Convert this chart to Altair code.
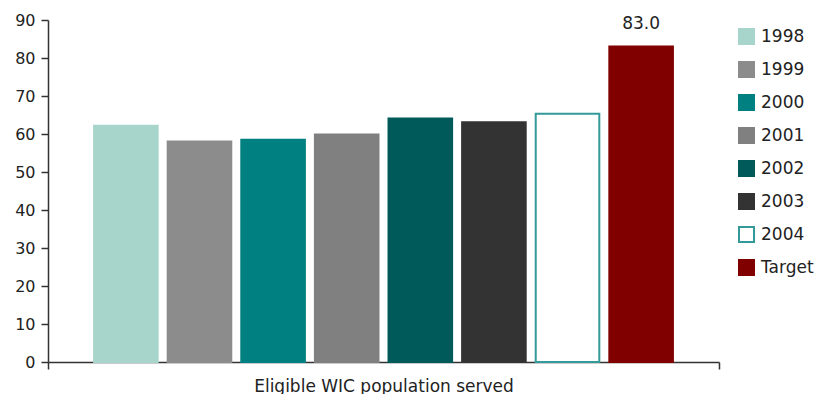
import altair as alt
import pandas as pd

years = ["1998", "1999", "2000", "2001", "2002", "2003", "2004", "Target"]
values = [62.2, 58.0, 58.5, 59.9, 64.1, 63.1, 65.3, 83.0]
group = "Eligible WIC population served"
fill_colors = ["#a8d5cb", "#8c8c8c", "#008080", "#808080", "#005a5a", "#333333", "#ffffff", "#800000"]
stroke_colors = ["#a8d5cb", "#8c8c8c", "#008080", "#808080", "#005a5a", "#333333", "#339999", "#800000"]
labels = ["", "", "", "", "", "", "", "83.0"]
y_ticks = [0, 10, 20, 30, 40, 50, 60, 70, 80, 90]

df = pd.DataFrame({"year": years, "value": values, "group": group, "label": labels})

FONT = "DejaVu Sans"
TXT = "#222222"

legend = alt.Legend(title=None, orient="none", legendX=690, legendY=8, padding=0,
                    symbolType="square", symbolSize=225, symbolStrokeWidth=2,
                    rowPadding=10, labelOffset=6, labelFontSize=17, labelFont=FONT,
                    labelColor=TXT)

base = alt.Chart(df).encode(
    x=alt.X("group:N", title=None,
            scale=alt.Scale(paddingInner=0, paddingOuter=0),
            axis=alt.Axis(tickBand="extent", tickSize=7, labelAngle=0, labelPadding=9,
                          labelLimit=0, labelFontSize=17, labelFont=FONT, labelColor=TXT,
                          domainColor="#333333", tickColor="#333333", domainWidth=1.5, tickWidth=1.5)),
    xOffset=alt.XOffset("year:N", sort=years,
                        scale=alt.Scale(paddingInner=0.136, paddingOuter=0.626)),
    y=alt.Y("value:Q", title=None,
            scale=alt.Scale(domain=[0, 90], nice=False),
            axis=alt.Axis(values=y_ticks, grid=False, tickSize=7, labelPadding=6,
                          labelOverlap=False, labelFontSize=16, labelFont=FONT, labelColor=TXT,
                          domainColor="#333333", tickColor="#333333", domainWidth=1.5, tickWidth=1.5)),
)

bars = base.mark_bar(strokeWidth=2).encode(
    fill=alt.Fill("year:N", sort=years, scale=alt.Scale(domain=years, range=fill_colors),
                  legend=legend),
    stroke=alt.Stroke("year:N", sort=years, scale=alt.Scale(domain=years, range=stroke_colors),
                      legend=legend),
)

text = base.mark_text(baseline="bottom", dy=-14, fontSize=17, font=FONT, color=TXT).encode(
    text="label:N",
)

chart = alt.layer(bars, text).properties(
    width=671, height=342,
    padding={"left": 6, "top": 4, "right": 0, "bottom": 0},
).configure_view(stroke=None)

chart.save("out.html", embed_options={"renderer": "svg", "actions": False})
